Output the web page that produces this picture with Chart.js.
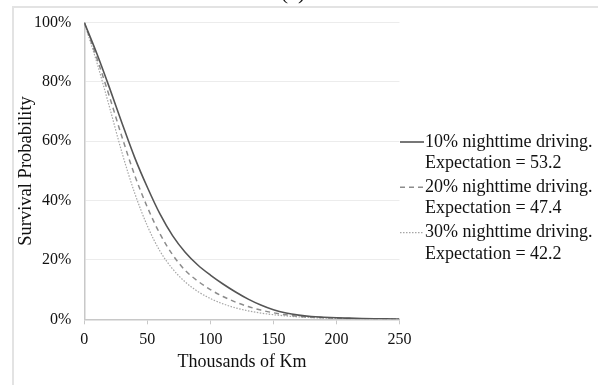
<!DOCTYPE html>
<html>
<head>
<meta charset="utf-8">
<script src="https://cdn.jsdelivr.net/npm/chart.js@4.4.1/dist/chart.umd.min.js"></script>
<style>
  html, body { margin: 0; padding: 0; background: #fff; overflow: hidden; }
  #wrap { position: relative; width: 598px; height: 385px; }
  #frame { position: absolute; left: 12px; top: 6px; width: 700px; height: 500px; border: 2px solid #e3e3e3; }
  #survChart { position: absolute; left: 0; top: 0; }
</style>
</head>
<body>
<div id="wrap">
  <div id="frame"></div>
  <canvas id="survChart" width="598" height="385"></canvas>
</div>
<script>
// Miles de km (eje x)
var kms = [0, 10, 20, 30, 40, 50, 60, 70, 80, 90, 100, 110, 120, 130, 140, 150, 160, 170, 180, 190, 200, 210, 220, 230, 240, 250];

// Probabilidad de supervivencia (%)
var night10 = [100, 89.5, 78, 66, 54.5, 44.5, 35.5, 28.2, 22.6, 18.3, 14.9, 11.9, 9.2, 6.8, 4.8, 3.2, 2.1, 1.4, 0.95, 0.7, 0.5, 0.38, 0.28, 0.2, 0.15, 0.1];
var night20 = [100, 88, 75, 61.3, 48.5, 37.8, 28.8, 21.8, 16.5, 12.9, 10, 7.7, 5.8, 4.3, 3.1, 2.2, 1.5, 1, 0.7, 0.5, 0.36, 0.26, 0.19, 0.14, 0.1, 0.07];
var night30 = [100, 86.5, 71.5, 56, 42.5, 31.5, 23, 17, 12.6, 9.4, 7, 5.2, 3.85, 2.85, 2.1, 1.55, 1.12, 0.8, 0.58, 0.42, 0.3, 0.22, 0.16, 0.12, 0.09, 0.06];

var xTicks = [0, 50, 100, 150, 200, 250];
var yTicks = [0, 20, 40, 60, 80, 100];

var legendLines = [
    ['10% nighttime driving.', 'Expectation = 53.2'],
    ['20% nighttime driving.', 'Expectation = 47.4'],
    ['30% nighttime driving.', 'Expectation = 42.2']
];

var serif = "'Liberation Serif', 'Times New Roman', serif";

function toPoints(values) {
    return kms.map(function(k, i) {
        return { x: k, y: values[i] };
    });
}

// Leyenda a la derecha, dibujada a mano (texto en dos lineas)
var sideLegend = {
    id: 'sideLegend',
    afterDraw: function(chart) {
        var ctx = chart.ctx;
        var startY = 142;
        ctx.save();
        ctx.font = '18px ' + serif;
        ctx.fillStyle = '#111';
        ctx.textBaseline = 'middle';
        chart.data.datasets.forEach(function(ds, i) {
            var y = startY + i * 45.3;
            ctx.strokeStyle = ds.borderColor;
            ctx.lineWidth = ds.borderWidth;
            ctx.setLineDash(ds.borderDash || []);
            ctx.beginPath();
            ctx.moveTo(400, y);
            ctx.lineTo(424, y);
            ctx.stroke();
            ctx.setLineDash([]);
            ctx.fillText(legendLines[i][0], 425, y);
            ctx.fillText(legendLines[i][1], 425, y + 21.3);
        });
        // etiqueta del panel, cortada en el borde superior
        ctx.font = '22px ' + serif;
        ctx.textAlign = 'center';
        ctx.textBaseline = 'alphabetic';
        ctx.fillText('(a)', 293, -1.5);
        ctx.restore();
    }
};

var ctx = document.getElementById('survChart').getContext('2d');
new Chart(ctx, {
    type: 'line',
    data: {
        datasets: [{
            label: legendLines[0][0],
            data: toPoints(night10),
            borderColor: '#555555',
            borderWidth: 1.6,
            pointRadius: 0,
            cubicInterpolationMode: 'monotone'
        }, {
            label: legendLines[1][0],
            data: toPoints(night20),
            borderColor: '#8c8c8c',
            borderWidth: 1.5,
            borderDash: [5, 4],
            pointRadius: 0,
            cubicInterpolationMode: 'monotone'
        }, {
            label: legendLines[2][0],
            data: toPoints(night30),
            borderColor: '#a6a6a6',
            borderWidth: 1.2,
            borderDash: [1.5, 1.5],
            pointRadius: 0,
            cubicInterpolationMode: 'monotone'
        }]
    },
    options: {
        responsive: false,
        animation: false,
        layout: { padding: { left: 0, right: 198.5, top: 22, bottom: 0 } },
        plugins: {
            legend: { display: false },
            tooltip: { enabled: false }
        },
        scales: {
            x: {
                type: 'linear',
                min: 0,
                max: 250,
                afterFit: function(scale) { scale.height = 65.7; },
                afterBuildTicks: function(scale) {
                    scale.ticks = xTicks.map(function(v) { return { value: v }; });
                },
                grid: { drawOnChartArea: false, drawTicks: true, tickLength: 5, color: '#c8c8c8' },
                border: { color: '#c8c8c8', width: 1.5 },
                ticks: {
                    padding: 6,
                    maxRotation: 0,
                    color: '#111',
                    font: { family: serif, size: 16 }
                },
                title: {
                    display: true,
                    text: 'Thousands of Km',
                    color: '#111',
                    padding: { top: 0, bottom: 11.5 },
                    font: { family: serif, size: 18 }
                }
            },
            y: {
                min: 0,
                max: 100,
                afterFit: function(scale) { scale.width = 84.3; },
                afterBuildTicks: function(scale) {
                    scale.ticks = yTicks.map(function(v) { return { value: v }; });
                },
                grid: { drawTicks: false, color: '#ececec', lineWidth: 1 },
                border: { color: '#c8c8c8', width: 1.5 },
                ticks: {
                    padding: 13,
                    color: '#111',
                    font: { family: serif, size: 16 },
                    callback: function(value) {
                        return value + '%';
                    }
                },
                title: {
                    display: true,
                    text: 'Survival Probability',
                    color: '#111',
                    padding: { top: 15, bottom: 0 },
                    font: { family: serif, size: 18.5 }
                }
            }
        }
    },
    plugins: [sideLegend]
});
</script>
</body>
</html>
